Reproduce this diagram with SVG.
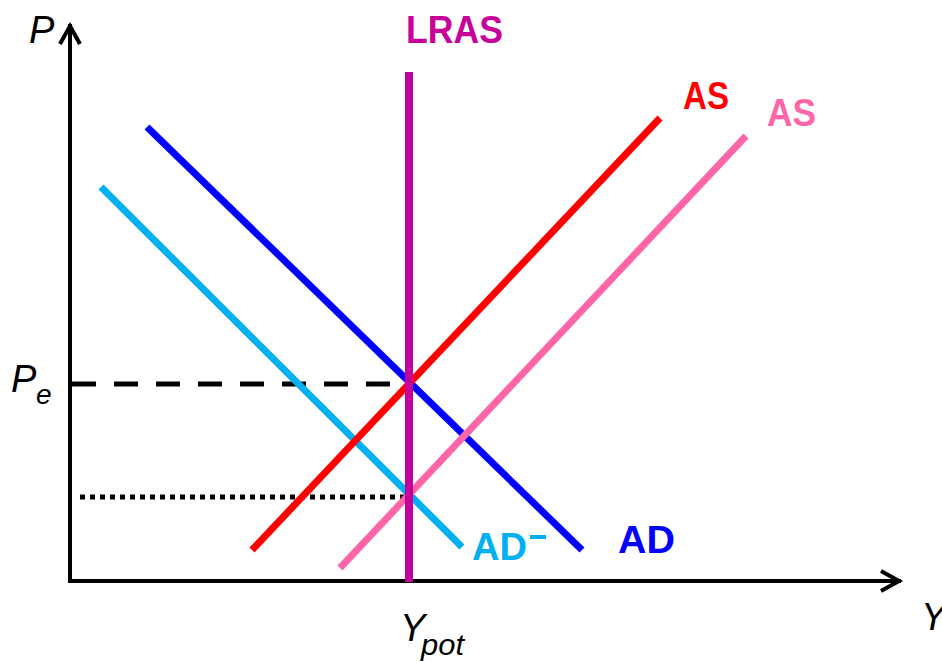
<svg xmlns="http://www.w3.org/2000/svg" width="942" height="662" viewBox="0 0 942 662">
<style>
.ax{stroke:#000;stroke-width:4;fill:none;stroke-linecap:butt}
.crv{stroke-width:7;fill:none}
.lbl{font-family:"Liberation Sans",Arial,sans-serif;font-weight:bold;font-size:38px}
.it{font-family:"Liberation Sans",Arial,sans-serif;font-style:italic;fill:#000}
</style>
<rect width="942" height="662" fill="#fff"/>
<g id="axes">
<path class="ax" d="M70,24 V581 H901"/>
<path class="ax" d="M60,44 L70,26 L80,44"/>
<path class="ax" d="M881,571 L899,581 L881,591"/>
</g>
<g id="guides">
<line x1="72" y1="384" x2="408" y2="384" stroke="#000" stroke-width="5" stroke-dasharray="24 18"/>
<line x1="80" y1="497" x2="408" y2="497" stroke="#000" stroke-width="5" stroke-dasharray="5 5"/>
</g>
<g id="connectors">
<line id="AD" class="crv" x1="147" y1="127" x2="582" y2="550" stroke="#0000FF"/>
<line id="ADminus" class="crv" x1="101" y1="187" x2="462" y2="547" stroke="#00B0F0"/>
<line id="AS1" class="crv" x1="252" y1="550" x2="660" y2="118" stroke="#FF0000"/>
<line id="AS2" class="crv" x1="340" y1="568" x2="746" y2="136" stroke="#FF66A8"/>
<line id="LRAS" x1="409" y1="72" x2="409" y2="582" stroke="#C8009B" stroke-width="8"/>
</g>
<g id="labels">
<text class="lbl" x="406" y="43" fill="#C8009B" textLength="97" lengthAdjust="spacingAndGlyphs">LRAS</text>
<text class="lbl" x="683" y="109" fill="#FF0000" textLength="46" lengthAdjust="spacingAndGlyphs">AS</text>
<text class="lbl" x="767" y="126" fill="#FF66A8" textLength="49" lengthAdjust="spacingAndGlyphs">AS</text>
<text class="lbl" x="618" y="553" fill="#0000FF" textLength="57" lengthAdjust="spacingAndGlyphs">AD</text>
<text class="lbl" x="472" y="560" fill="#00B0F0" textLength="55" lengthAdjust="spacingAndGlyphs">AD</text>
<rect x="530" y="535" width="16" height="4" fill="#00B0F0"/>
<text class="it" x="29" y="43" font-size="38">P</text>
<text class="it" x="11" y="392" font-size="38">P</text>
<text class="it" x="36" y="404" font-size="28">e</text>
<text class="it" x="400" y="641" font-size="38">Y</text>
<text class="it" x="421" y="655" font-size="30" textLength="43" lengthAdjust="spacingAndGlyphs">pot</text>
<text class="it" x="921" y="630" font-size="38">Y</text>
</g>
</svg>
